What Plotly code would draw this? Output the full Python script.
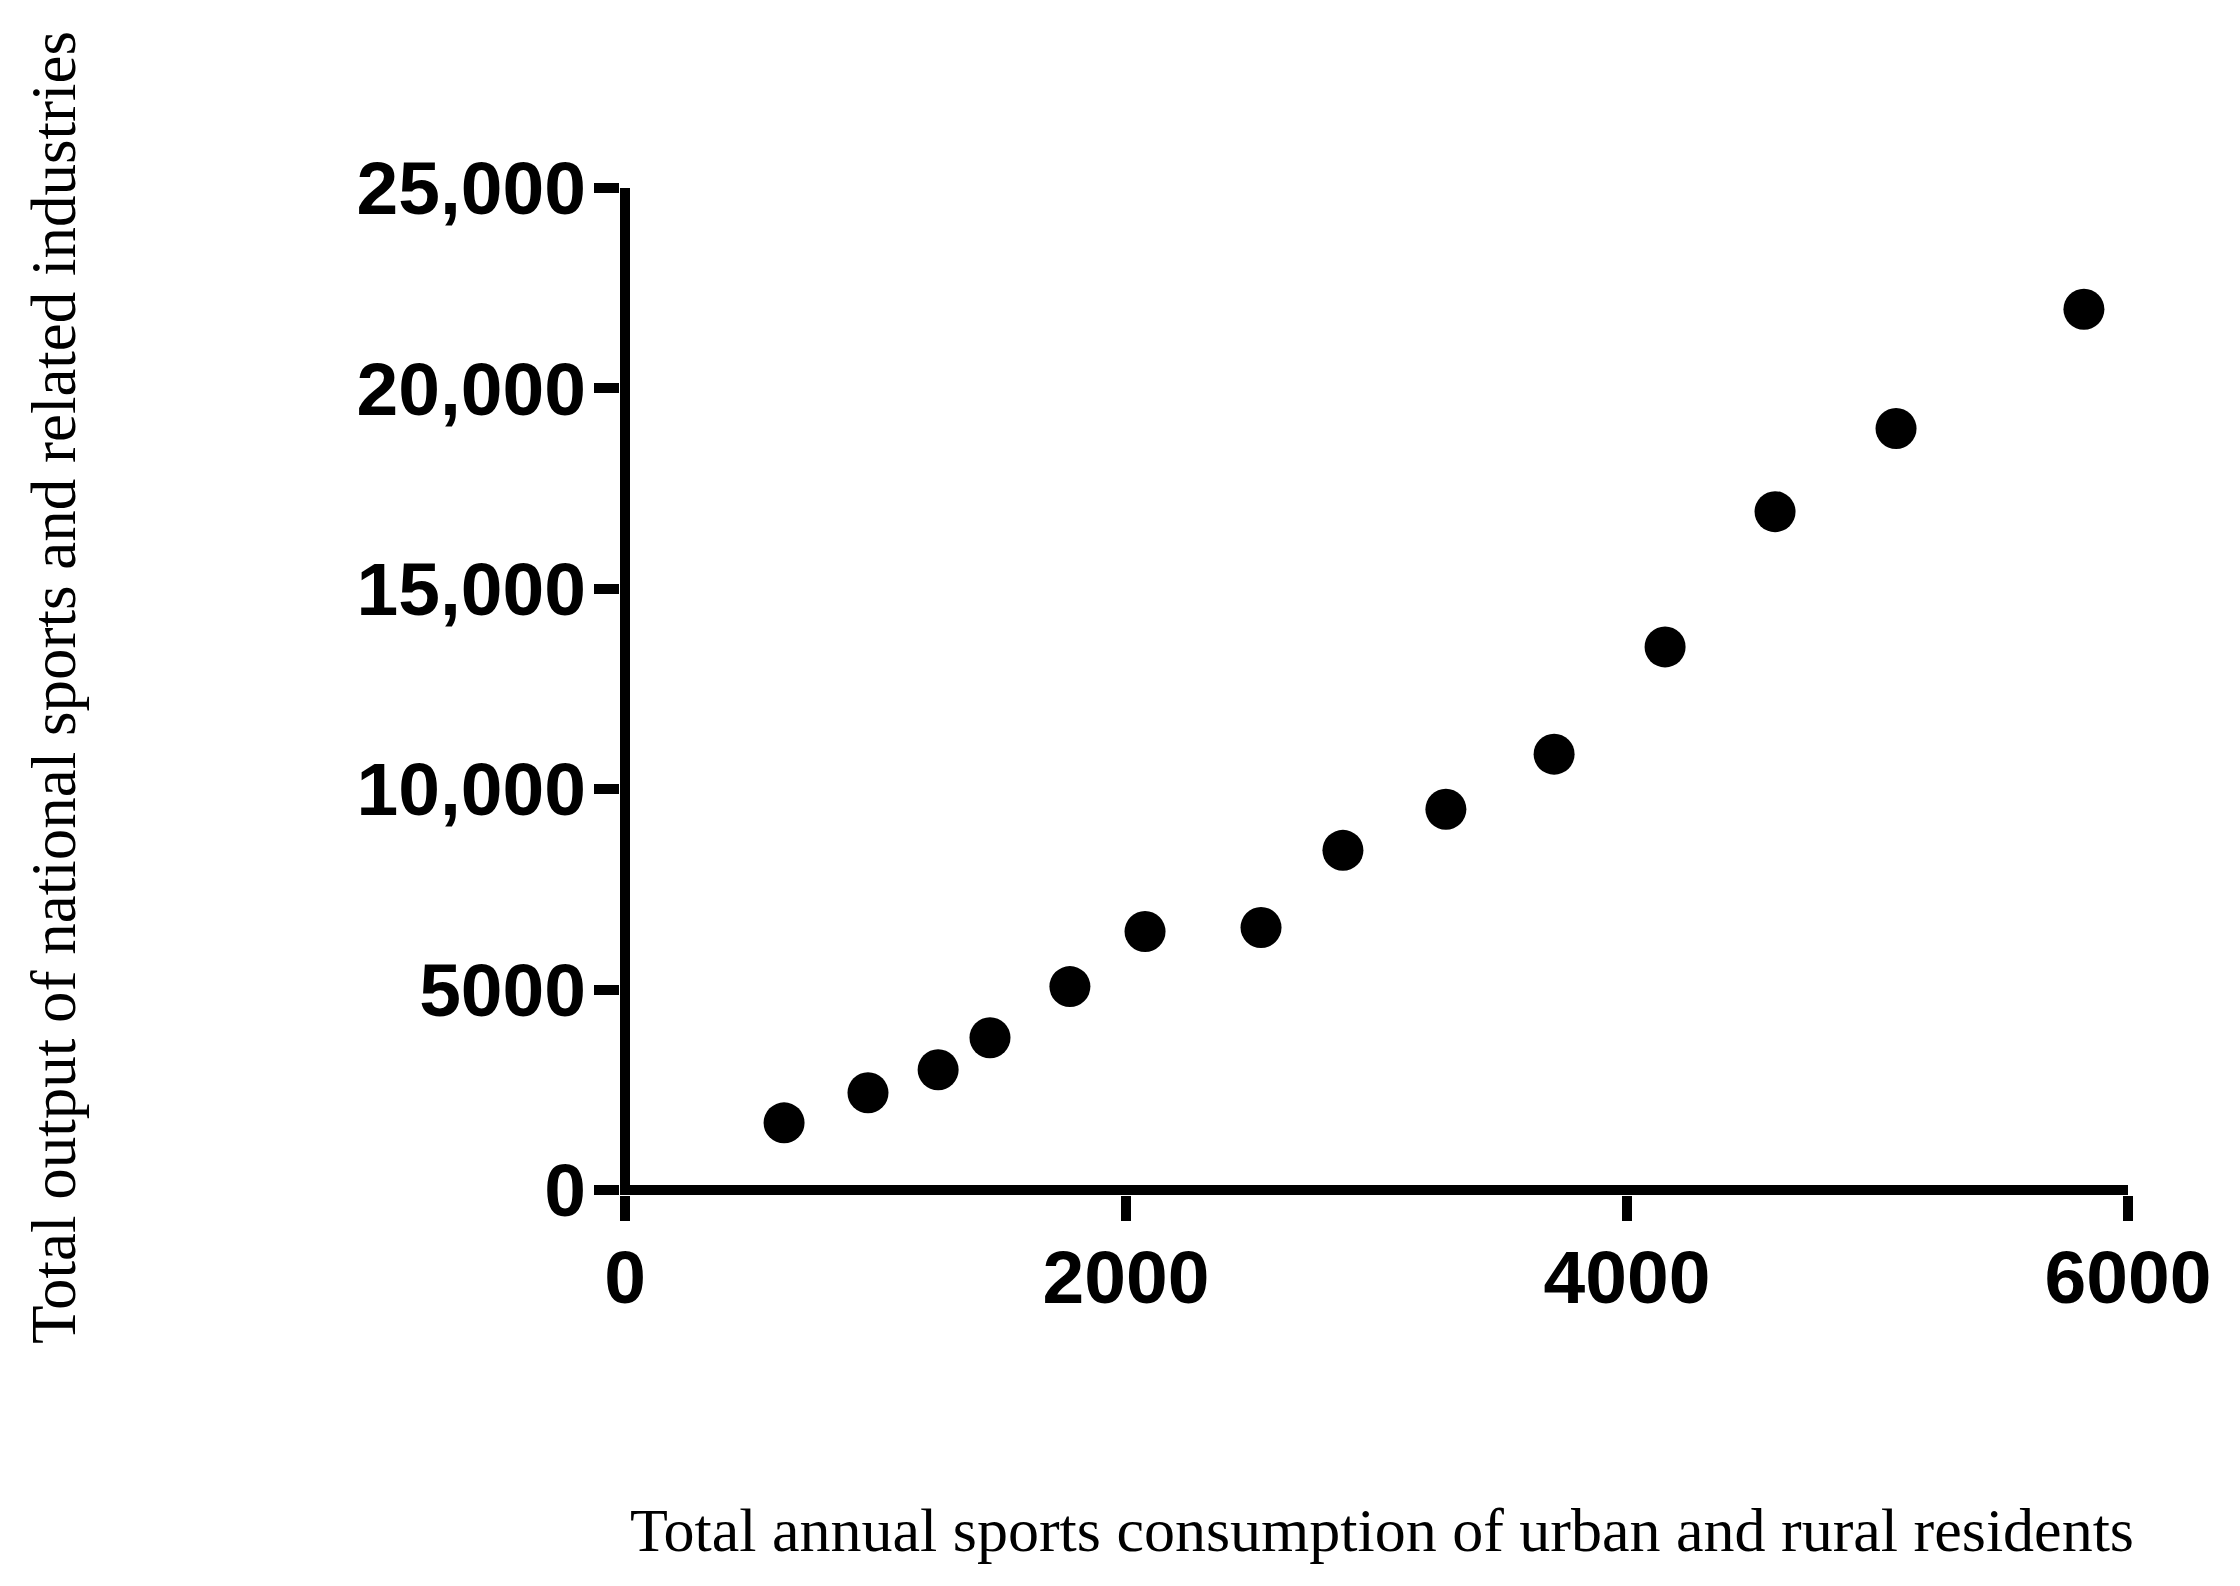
import plotly.graph_objects as go

# Data
consumption = [635, 970, 1250, 1457, 1776, 2076, 2539, 2866, 3277, 3709, 4152, 4591, 5074, 5824]
output = [1675, 2425, 3000, 3800, 5075, 6450, 6550, 8475, 9500, 10875, 13550, 16925, 19000, 21975]

x_max, y_max = 6000, 25000
x_tickvals = [0, 2000, 4000, 6000]
x_ticktext = ["0", "2000", "4000", "6000"]
y_tickvals = [0, 5000, 10000, 15000, 20000, 25000]
y_ticktext = ["0", "5000", "10,000", "15,000", "20,000", "25,000"]

x_title = "Total annual sports consumption of urban and rural residents"
y_title = "Total output of national sports and related industries"

W, H = 2240, 1586
# pixel geometry (figure coordinates)
zero_x, full_x = 617, 2120      # pixel of x=0 and x=x_max
zero_y, full_y = 1182, 180      # pixel of y=0 and y=y_max
gap = 5                         # half axis-line width
LW = 10

L = zero_x - gap
R = W - full_x
T = full_y
B = H - (zero_y + gap)
x_lo = -gap * x_max / (full_x - zero_x)
y_lo = -gap * y_max / (zero_y - full_y)

fig = go.Figure()
fig.add_trace(go.Scatter(
    x=consumption, y=output, mode="markers",
    marker=dict(size=41, color="black", line=dict(width=0)),
    cliponaxis=False, showlegend=False,
))

tickfont = dict(family="Liberation Sans, Arial, sans-serif", size=75, color="black", weight="bold")
axis_common = dict(
    showgrid=False, showline=False, zeroline=True, zerolinecolor="black", zerolinewidth=LW,
    ticks="outside", ticklen=25, tickwidth=LW, tickcolor="black", tickfont=tickfont,
    tickmode="array",
)

fig.update_xaxes(range=[x_lo, x_max], tickvals=x_tickvals, ticktext=x_ticktext,
                 ticklabelstandoff=-8, **axis_common)
fig.update_yaxes(range=[y_lo, y_max], tickvals=y_tickvals, ticktext=y_ticktext,
                 ticklabelstandoff=-7, **axis_common)

plot_h = H - T - B
plot_w = W - L - R
xtitlefont = dict(family="Liberation Serif, Times New Roman, serif", size=62, color="black")
ytitlefont = dict(family="Liberation Serif, Times New Roman, serif", size=63, color="black")
fig.add_annotation(text=x_title, xref="paper", yref="paper",
                   x=(1374 - L) / plot_w, y=-(1522 - (H - B)) / plot_h,
                   xanchor="center", yanchor="middle", showarrow=False, font=xtitlefont)
fig.add_annotation(text=y_title, xref="paper", yref="paper",
                   x=(46 - L) / plot_w, y=((H - B) - 680) / plot_h,
                   xanchor="center", yanchor="middle", textangle=-90, showarrow=False, font=ytitlefont)

fig.update_layout(
    width=W, height=H,
    margin=dict(l=L, r=R, t=T, b=B, pad=0),
    paper_bgcolor="white", plot_bgcolor="white",
)

fig.write_html("out.html")
